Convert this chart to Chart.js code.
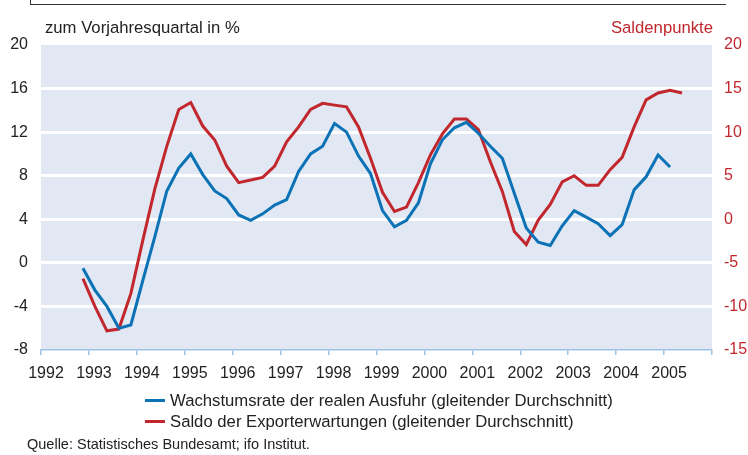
<!DOCTYPE html>
<html>
<head>
<meta charset="utf-8">
<script src="https://cdn.jsdelivr.net/npm/chart.js@4.4.1/dist/chart.umd.min.js"></script>
<style>
  body { margin: 0; background: #fff; font-family: "Liberation Sans", Arial, sans-serif; }
  #wrap { position: relative; width: 748px; height: 455px; overflow: hidden; }
  #frame { position: absolute; left: 30px; top: -2px; width: 695px; height: 6px; border-left: 1.5px solid #333; border-bottom: 1.5px solid #333; }
  .txt { position: absolute; white-space: nowrap; color: #222; }
  #unitLeft { left: 45px; top: 18px; font-size: 16.7px; }
  #unitRight { right: 35px; top: 18px; font-size: 16.7px; color: #c1272d; }
  .leg { position: absolute; left: 145px; font-size: 16.7px; color: #222; white-space: nowrap; }
  .leg span { display: inline-block; width: 20px; height: 3px; vertical-align: middle; margin-right: 5px; position: relative; top: -1px; }
  #source { left: 27px; top: 436px; font-size: 14.5px; }
</style>
</head>
<body>
<div id="wrap">
  <div id="frame"></div>
  <canvas id="chart" width="748" height="455"></canvas>
  <div class="txt" id="unitLeft">zum Vorjahresquartal in %</div>
  <div class="txt" id="unitRight">Saldenpunkte</div>
  <div class="leg" style="top:391px"><span style="background:#0b72b5"></span>Wachstumsrate der realen Ausfuhr (gleitender Durchschnitt)</div>
  <div class="leg" style="top:412px"><span style="background:#c1272d"></span>Saldo der Exporterwartungen (gleitender Durchschnitt)</div>
  <div class="txt" id="source">Quelle: Statistisches Bundesamt; ifo Institut.</div>
</div>
<script>
const quarters = [
  '1992 Q4',
  '1993 Q1', '1993 Q2', '1993 Q3', '1993 Q4',
  '1994 Q1', '1994 Q2', '1994 Q3', '1994 Q4',
  '1995 Q1', '1995 Q2', '1995 Q3', '1995 Q4',
  '1996 Q1', '1996 Q2', '1996 Q3', '1996 Q4',
  '1997 Q1', '1997 Q2', '1997 Q3', '1997 Q4',
  '1998 Q1', '1998 Q2', '1998 Q3', '1998 Q4',
  '1999 Q1', '1999 Q2', '1999 Q3', '1999 Q4',
  '2000 Q1', '2000 Q2', '2000 Q3', '2000 Q4',
  '2001 Q1', '2001 Q2', '2001 Q3', '2001 Q4',
  '2002 Q1', '2002 Q2', '2002 Q3', '2002 Q4',
  '2003 Q1', '2003 Q2', '2003 Q3', '2003 Q4',
  '2004 Q1', '2004 Q2', '2004 Q3', '2004 Q4',
  '2005 Q1', '2005 Q2'
]

// Wachstumsrate der realen Ausfuhr, % (left axis), ends 2005 Q1
const exportGrowth = [
  -0.5,
  -2.5, -4.0, -6.0, -5.7,
  -1.6, 2.4, 6.6, 8.7,
  10.0, 8.1, 6.6, 5.9,
  4.4, 3.9, 4.5, 5.3,
  5.8, 8.4, 10.0, 10.7,
  12.8, 12.0, 9.8, 8.2,
  4.8, 3.3, 3.9, 5.5,
  9.1, 11.3, 12.4, 12.9,
  11.9, 10.7, 9.6, 6.4,
  3.2, 1.9, 1.6, 3.4,
  4.8, 4.2, 3.6, 2.5,
  3.5, 6.7, 7.9, 9.9,
  8.8
]

// Saldo der Exporterwartungen, Saldenpunkte (right axis), ends 2005 Q2
const exportExpectations = [
  -6.8,
  -10.0, -12.8, -12.6, -8.5,
  -2.4, 3.5, 8.4, 12.6,
  13.4, 10.7, 9.1, 6.1,
  4.2, 4.5, 4.8, 6.1,
  8.9, 10.6, 12.6, 13.3,
  13.1, 12.9, 10.6, 7.0,
  3.1, 0.9, 1.4, 4.2,
  7.4, 9.8, 11.5, 11.5,
  10.3, 6.6, 3.2, -1.4,
  -2.9, -0.1, 1.7, 4.3,
  5.0, 3.9, 3.9, 5.7,
  7.1, 10.6, 13.7, 14.5,
  14.8, 14.5
]

const yearTicks = [1992, 1993, 1994, 1995, 1996, 1997, 1998, 1999, 2000, 2001, 2002, 2003, 2004, 2005]
const leftTicks = [-8, -4, 0, 4, 8, 12, 16, 20]
const rightTicks = [-15, -10, -5, 0, 5, 10, 15, 20]

const BLUE = '#0b72b5'
const RED = '#c1272d'
const font = { family: '"Liberation Sans", Arial, sans-serif', size: 16 }

// quarter label -> position in year (middle of quarter)
function quarterPos(q) {
  const parts = q.split(' Q')
  return Number(parts[0]) + (Number(parts[1]) - 0.5) / 4
}

function toPoints(values) {
  return values.map((v, i) => ({ x: quarterPos(quarters[i]), y: v }))
}

const plotBackground = {
  id: 'plotBackground',
  beforeDraw(chart) {
    const a = chart.chartArea
    const ctx = chart.ctx
    ctx.save()
    ctx.fillStyle = '#e1e8f3'
    ctx.fillRect(a.left, a.top, a.right - a.left, a.bottom - a.top)
    ctx.restore()
  }
}

new Chart(document.getElementById('chart').getContext('2d'), {
  type: 'line',
  data: {
    datasets: [
      {
        label: 'Wachstumsrate der realen Ausfuhr (gleitender Durchschnitt)',
        data: toPoints(exportGrowth),
        yAxisID: 'y',
        borderColor: BLUE,
        borderWidth: 3,
        pointRadius: 0,
        tension: 0
      },
      {
        label: 'Saldo der Exporterwartungen (gleitender Durchschnitt)',
        data: toPoints(exportExpectations),
        yAxisID: 'y1',
        borderColor: RED,
        borderWidth: 3,
        pointRadius: 0,
        tension: 0
      }
    ]
  },
  options: {
    responsive: false,
    animation: false,
    layout: { padding: { top: 45, left: 0, right: 0, bottom: 0 } },
    plugins: {
      legend: { display: false },
      tooltip: { enabled: false }
    },
    scales: {
      x: {
        type: 'linear',
        min: 1992,
        max: 2006,
        afterBuildTicks: scale => { scale.ticks = yearTicks.concat([2006]).map(v => ({ value: v })) },
        afterFit: scale => { scale.height = 105 },
        ticks: {
          color: '#222',
          font: font,
          padding: 9,
          labelOffset: 5,
          maxRotation: 0,
          autoSkip: false,
          callback: v => (yearTicks.includes(v) ? String(v) : '')
        },
        grid: { drawOnChartArea: false, drawTicks: true, tickLength: 5, color: '#9cc3e5', lineWidth: 1.5 },
        border: { display: true, color: '#9cc3e5', width: 1.5 }
      },
      y: {
        position: 'left',
        min: -8,
        max: 20,
        afterBuildTicks: scale => { scale.ticks = leftTicks.map(v => ({ value: v })) },
        afterFit: scale => { scale.width = 41 },
        ticks: { color: '#222', font: font, padding: 13 },
        grid: {
          drawTicks: false,
          lineWidth: 3,
          color: ctx => (ctx.tick && (ctx.tick.value === 20 || ctx.tick.value === -8) ? 'rgba(0,0,0,0)' : '#ffffff')
        },
        border: { display: false }
      },
      y1: {
        position: 'right',
        min: -15,
        max: 20,
        afterBuildTicks: scale => { scale.ticks = rightTicks.map(v => ({ value: v })) },
        afterFit: scale => { scale.width = 36 },
        ticks: { color: RED, font: font, padding: 12 },
        grid: { drawOnChartArea: false, drawTicks: false },
        border: { display: false }
      }
    }
  },
  plugins: [plotBackground]
})
</script>
</body>
</html>
